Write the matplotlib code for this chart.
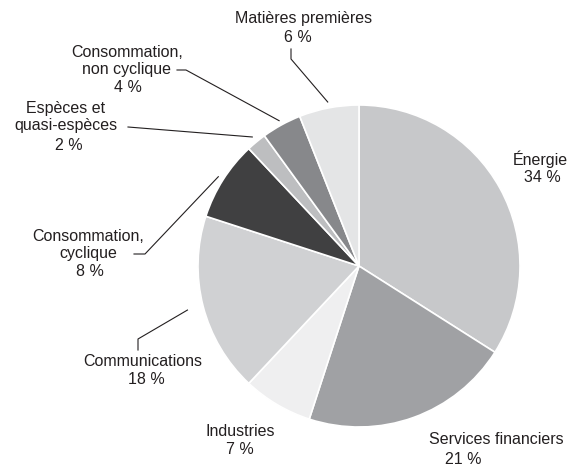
import numpy as np
import matplotlib
matplotlib.use("Agg")
import matplotlib.pyplot as plt

plt.rcParams['font.family'] = ['Liberation Sans', 'DejaVu Sans']

# Répartition sectorielle (%), dans le sens horaire depuis le haut
secteurs = ['Énergie', 'Services financiers', 'Industries', 'Communications',
            'Consommation, cyclique', 'Espèces et quasi-espèces',
            'Consommation, non cyclique', 'Matières premières']
valeurs = [34, 21, 7, 18, 8, 2, 4, 6]
noms = ['Énergie', 'Services financiers', 'Industries', 'Communications',
        'Consommation,\ncyclique', 'Espèces et\nquasi-espèces',
        'Consommation,\nnon cyclique', 'Matières premières']
couleurs = ['#c7c8ca', '#a0a1a4', '#efeff0', '#d0d1d3',
            '#404041', '#bdbec0', '#87888b', '#e4e5e6']

W, H = 573, 468
fig = plt.figure(figsize=(W / 100, H / 100), dpi=100)
ax = fig.add_axes([0, 0, 1, 1])
ax.axis('off')

def px(x, y):
    # coordonnées pixel (origine en haut à gauche) -> axes
    return x, H - y

cx, cy = px(359, 266)
R = 161
wedges, _ = ax.pie(valeurs, colors=couleurs, startangle=90, counterclock=False,
                   center=(cx, cy), radius=R,
                   wedgeprops=dict(edgecolor='white', linewidth=1.2))
ax.set_xlim(0, W)
ax.set_ylim(0, H)
ax.set_aspect('equal')

txt = dict(ha='center', va='center', fontsize=11.5, color='#231f20', linespacing=1.15)
# positions : centre du nom, centre du pourcentage (pixels)
pos = {
    'Énergie': ((540, 159), (542, 178)),
    'Services financiers': ((496, 440), (463, 459)),
    'Industries': ((240, 432), (240, 450)),
    'Communications': ((143, 362), (146, 380)),
    'Consommation, cyclique': ((88, 245), (90, 272)),
    'Espèces et quasi-espèces': ((66, 117), (69, 145)),
    'Consommation, non cyclique': ((127, 61), (128, 88)),
    'Matières premières': ((304, 19), (298, 37)),
}
for s, nom, v in zip(secteurs, noms, valeurs):
    (nx, ny), (vx, vy) = pos[s]
    ax.text(*px(nx, ny), nom, **txt)
    ax.text(*px(vx, vy), f'{v} %', **txt)

# traits de rappel : coude (pixel) et facteur de rayon
rappels = {
    'Matières premières': ([(291, 49), (291, 59)], 1.037),
    'Consommation, non cyclique': ([(177, 70), (186, 70)], 1.03),
    'Espèces et quasi-espèces': ([(128, 127)], 1.04),
    'Consommation, cyclique': ([(134, 254), (145, 254)], 1.035),
    'Communications': ([(138, 350), (138, 339)], 1.10),
}
for w, s in zip(wedges, secteurs):
    if s not in rappels:
        continue
    pts, f = rappels[s]
    a = np.deg2rad((w.theta1 + w.theta2) / 2)
    ex, ey = cx + f * R * np.cos(a), cy + f * R * np.sin(a)
    xs = [px(*p)[0] for p in pts] + [ex]
    ys = [px(*p)[1] for p in pts] + [ey]
    ax.plot(xs, ys, color='#231f20', linewidth=0.8)

fig.savefig('out.png', dpi=100)
